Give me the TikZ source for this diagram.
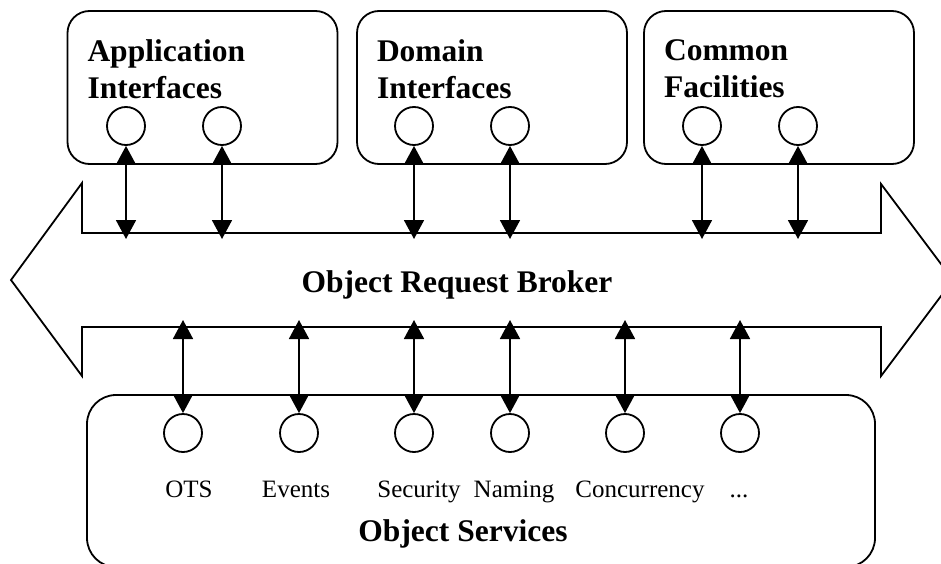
\documentclass[tikz,border=0pt]{standalone}
\usepackage{fontspec}
\setmainfont{Liberation Serif}
\usetikzlibrary{positioning,arrows.meta}
\newcommand{\iface}[3]{\node[ifbox](#1) at (#2){};
  \node[boxtitle](#1t)[below right=29pt and 20pt of #1.north west]{#3};}
\newcommand{\orbport}[2]{\node[portc](#1) at (#2){};}

\begin{document}
\begin{tikzpicture}[x=1pt,y=-1pt,line width=1.8pt,>={Triangle[length=19pt,width=20pt]},
  ifbox/.style={draw,rounded corners=22pt,minimum width=270pt,minimum height=153pt},
  boxtitle/.style={inner sep=0pt,align=left,font=\fontsize{31.5}{37}\selectfont\bfseries},
  portc/.style={circle,draw,minimum size=38pt,inner sep=0pt},
  svcname/.style={anchor=base,inner sep=0pt,font=\fontsize{25}{30}\selectfont},
  bigname/.style={anchor=base,inner sep=0pt,font=\fontsize{31.5}{37}\selectfont\bfseries}]
\clip (0,0) rectangle (941,564);

% upper interfaces
\iface{app}{202.5,87.5}{Application\\Interfaces}
\iface{dom}{492,87.5}{Domain\\Interfaces}
\iface{com}{779,87.5}{Common\\Facilities}

% the bus
\coordinate (bustop) at (0,233);
\coordinate (busbot) at (0,327);
\draw (82,233) -- (82,183) -- (11,280) -- (82,376) -- (82,327) -- (881,327)
  -- (881,376) -- (953,280) -- (881,184) -- (881,233) -- cycle;
\node[bigname](orb) at (457,292){Object Request Broker};

\foreach \p/\x in {a1/126,a2/222,d1/414,d2/510,c1/702,c2/798}{
  \orbport{\p}{\x,126}
  \draw[<->,shorten >=-6pt] (\p.south) -- (\p |- bustop);
}

% object services
\node[draw,rounded corners=29pt,minimum width=788pt,minimum height=172pt](svc) at (481,481){};
\foreach \p/\x/\lx/\txt in {ots/183/189/OTS,evt/299/296/Events,sec/414/419/Security,
  nam/510/514/Naming,con/625/640/Concurrency,etc/740/739/.{}.{}.}{
  \orbport{\p}{\x,433}
  \draw[<->,shorten <=-7pt] (\p |- busbot) -- (\p.north);
  \node[svcname](\p l) at (\lx,497){\txt};
}
\node[bigname](svct) at (463,541){Object Services};

\end{tikzpicture}
\end{document}
